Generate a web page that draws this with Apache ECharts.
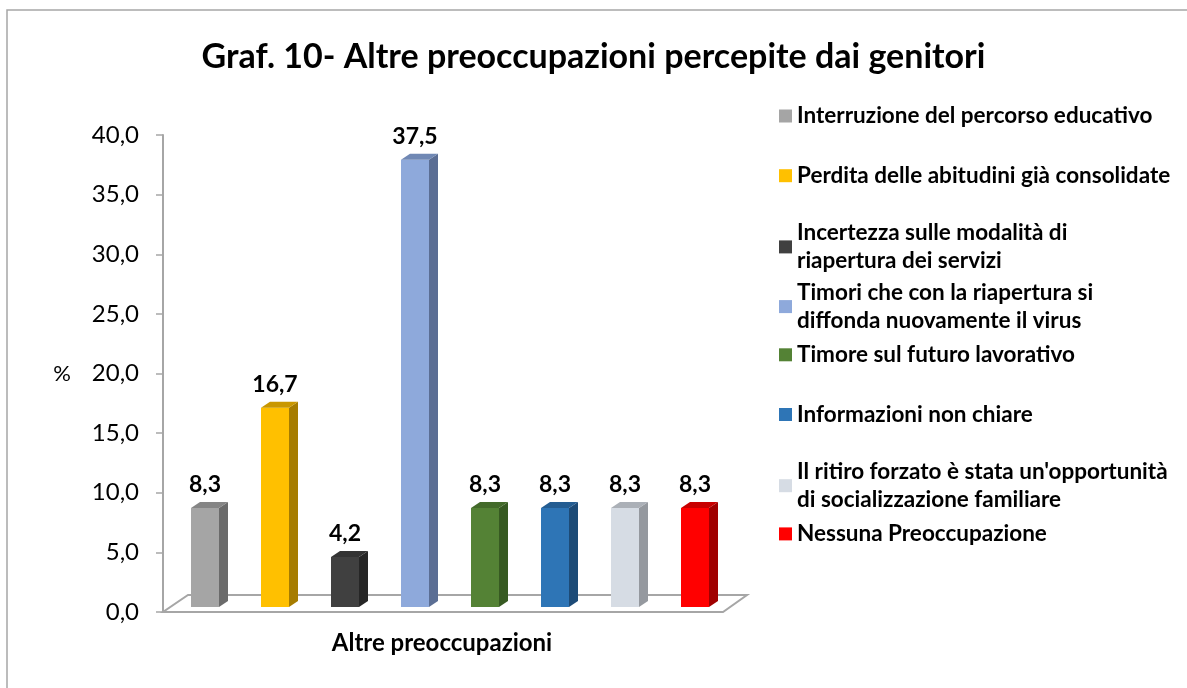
<!DOCTYPE html>
<html>
<head>
<meta charset="utf-8">
<script src="https://cdn.jsdelivr.net/npm/echarts@6/dist/echarts.min.js"></script>
<style>
  html, body { margin: 0; padding: 0; background: #fff; }
  #chart { width: 1187px; height: 688px; }
</style>
</head>
<body>
<div id="chart"></div>
<script>
// ---- Data ----
const titleText = 'Graf. 10- Altre preoccupazioni percepite dai genitori';
const categories = ['Altre preoccupazioni'];
const seriesNames = [
  'Interruzione del percorso educativo',
  'Perdita delle abitudini già consolidate',
  'Incertezza sulle modalità di riapertura dei servizi',
  'Timori che con la riapertura si diffonda nuovamente il virus',
  'Timore sul futuro lavorativo',
  'Informazioni non chiare',
  "Il ritiro forzato è stata un'opportunità di socializzazione familiare",
  'Nessuna Preoccupazione'
];
const legendLabels = [
  'Interruzione del percorso educativo',
  'Perdita delle abitudini già consolidate',
  'Incertezza sulle modalità di\nriapertura dei servizi',
  'Timori che con la riapertura si\ndiffonda nuovamente il virus',
  'Timore sul futuro lavorativo',
  'Informazioni non chiare',
  "Il ritiro forzato è stata un'opportunità\ndi socializzazione familiare",
  'Nessuna Preoccupazione'
];
const values = [8.3, 16.7, 4.2, 37.5, 8.3, 8.3, 8.3, 8.3];
const yMin = 0, yMax = 40, yInterval = 5;
const yAxisName = '%';

// ---- Styles ----
const frontColors = ['#A5A5A5', '#FFC000', '#404040', '#8EA9DB', '#548235', '#2E75B6', '#D6DCE4', '#FF0000'];
const topColors   = ['#858585', '#C99700', '#333333', '#7088B4', '#436A2A', '#245D92', '#ABB0B7', '#C80000'];
const sideColors  = ['#6B6B6B', '#A67C00', '#262626', '#5B6E94', '#375A22', '#1D4B77', '#95999F', '#A00000'];
const FONT = 'Lato';
const fmt = v => v.toFixed(1).replace('.', ',');

const chart = echarts.init(document.getElementById('chart'), null, { renderer: 'canvas' });

function barRenderer(i) {
  return function (params, api) {
    const v = api.value(1);
    const base = api.coord([api.value(0), 0]);
    const top = api.coord([api.value(0), v]);
    const band = api.size([1, 0])[0];
    const u = band / 574;
    const step = 70 * u, w = 28 * u, dx = 9 * u, dy = 6, lift = 5;
    const x0 = base[0] + (i - (values.length - 1) / 2) * step - w / 2;
    const x1 = x0 + w;
    const yb = base[1] - lift, yt = top[1] - lift;
    return {
      type: 'group',
      children: [
        { type: 'rect', shape: { x: x0, y: yt, width: w, height: yb - yt }, style: { fill: frontColors[i] } },
        { type: 'polygon', shape: { points: [[x1, yt], [x1 + dx, yt - dy], [x1 + dx, yb - dy], [x1, yb]] }, style: { fill: sideColors[i] } },
        { type: 'polygon', shape: { points: [[x0, yt], [x0 + dx, yt - dy], [x1 + dx, yt - dy], [x1, yt]] }, style: { fill: topColors[i] } },
        { type: 'text', style: { text: fmt(v), x: (x0 + x1) / 2, y: yt - dy - 6, align: 'center', verticalAlign: 'bottom',
            fontSize: 23, fontWeight: 'bold', fontFamily: FONT, fill: '#000' } }
      ]
    };
  };
}

function floorRenderer(params, api) {
  const cs = params.coordSys;
  const x0 = cs.x, x1 = cs.x + cs.width, yb = cs.y + cs.height;
  const u = cs.width / 574;
  return {
    type: 'polygon',
    shape: { points: [[x0, yb], [x1 - 14 * u, yb], [x1 + 10 * u, yb - 17], [x0 + 25 * u, yb - 17]] },
    style: { fill: 'none', stroke: '#A6A6A6', lineWidth: 2 }
  };
}

const series = [{
  type: 'custom',
  name: '__floor',
  renderItem: floorRenderer,
  data: [[0, 0]],
  silent: true,
  z: 1
}].concat(seriesNames.map((name, i) => ({
  type: 'custom',
  name: name,
  renderItem: barRenderer(i),
  encode: { x: 0, y: 1 },
  data: [[0, values[i]]],
  itemStyle: { color: frontColors[i] },
  z: 2
})));

const legendTop = 102, legendStep = 59.7;
const legends = seriesNames.map((name, i) => ({
  data: [name],
  orient: 'vertical',
  left: 779,
  top: legendTop + i * legendStep,
  padding: 0,
  itemWidth: 13,
  itemHeight: 13,
  itemGap: 0,
  icon: 'rect',
  selectedMode: false,
  formatter: n => legendLabels[seriesNames.indexOf(n)],
  textStyle: {
    fontFamily: FONT, fontSize: 22.5, fontWeight: 'bold', color: '#000', lineHeight: 28,
    padding: legendLabels[i].indexOf('\n') >= 0 ? [0, 0, -28, 0] : 0
  }
}));

const option = {
  backgroundColor: '#fff',
  animation: false,
  title: {
    text: titleText,
    left: 'center',
    top: 35,
    textStyle: { fontFamily: FONT, fontSize: 34, fontWeight: 'bold', color: '#000' }
  },
  legend: legends,
  grid: { left: 163, right: 450, top: 135, bottom: 76, containLabel: false },
  xAxis: {
    type: 'category',
    data: categories,
    axisLine: { show: false },
    axisTick: { show: false },
    axisLabel: { margin: 19, fontFamily: FONT, fontSize: 24, fontWeight: 'bold', color: '#000', padding: [0, 16, 0, 0] },
    splitLine: { show: false }
  },
  yAxis: {
    type: 'value',
    min: yMin, max: yMax, interval: yInterval,
    name: yAxisName,
    nameLocation: 'middle',
    nameRotate: 0,
    nameGap: 92,
    nameTextStyle: { fontFamily: FONT, fontSize: 22, color: '#000' },
    axisLine: { show: true, lineStyle: { color: '#A6A6A6', width: 2 } },
    axisTick: { show: true, length: 7, lineStyle: { color: '#A6A6A6', width: 1.5 } },
    splitLine: { show: false },
    axisLabel: { margin: 24, fontFamily: FONT, fontSize: 24, color: '#000', formatter: v => fmt(v) }
  },
  graphic: [{
    type: 'rect',
    shape: { x: 7, y: 10, width: 1200, height: 700 },
    style: { fill: 'none', stroke: '#A6A6A6', lineWidth: 1.5 },
    silent: true,
    z: -1
  }],
  series: series
};
chart.setOption(option);
</script>
</body>
</html>
